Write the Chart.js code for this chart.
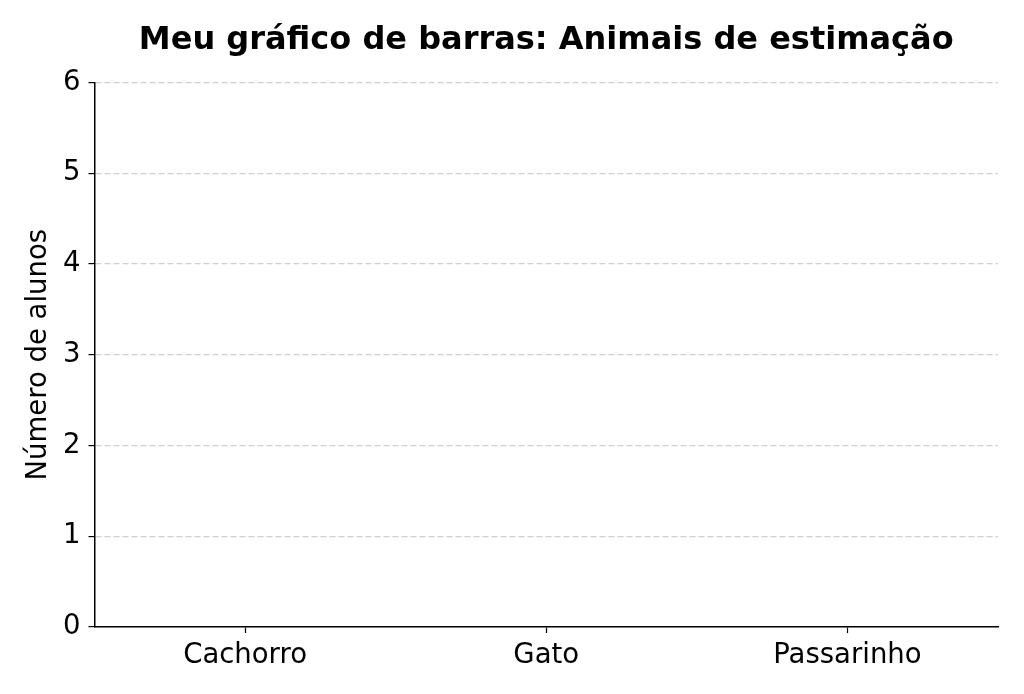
<!DOCTYPE html>
<html>
<head>
<meta charset="utf-8">
<script src="https://cdn.jsdelivr.net/npm/chart.js@4.4.0/dist/chart.umd.min.js"></script>
<style>
  body { margin: 0; background: #fff; }
  #wrap { width: 1024px; height: 694px; }
</style>
</head>
<body>
<div id="wrap"><canvas id="chart"></canvas></div>
<script>
// Dados do gráfico (nenhum aluno registrado ainda)
const animais = ['Cachorro', 'Gato', 'Passarinho'];
const numeroAlunos = [0, 0, 0];
const yTicks = [0, 1, 2, 3, 4, 5, 6];

const fonte = 'DejaVu Sans';

const ctx = document.getElementById('chart').getContext('2d');
const myChart = new Chart(ctx, {
    type: 'bar',
    data: {
        labels: animais,
        datasets: [{
            label: 'Número de alunos',
            data: numeroAlunos,
            backgroundColor: '#4c72b0'
        }]
    },
    options: {
        responsive: true,
        maintainAspectRatio: false,
        animation: false,
        layout: {
            padding: { left: 22, right: 26, top: 0, bottom: 16 }
        },
        plugins: {
            legend: { display: false },
            tooltip: { enabled: false },
            title: {
                display: true,
                fullSize: false,
                text: 'Meu gráfico de barras: Animais de estimação',
                color: '#000',
                font: { family: fonte, size: 32, weight: 'bold' },
                padding: { top: 21, bottom: 23 }
            }
        },
        scales: {
            x: {
                border: { color: '#000', width: 1.5 },
                grid: {
                    color: 'rgba(0,0,0,0)',
                    offset: false,
                    drawTicks: true,
                    tickColor: '#000',
                    tickLength: 6,
                    tickWidth: 1.2
                },
                ticks: {
                    color: '#000',
                    font: { family: fonte, size: 27.5 },
                    padding: 6
                }
            },
            y: {
                min: yTicks[0],
                max: yTicks[yTicks.length - 1],
                border: { color: '#000', width: 1.5, dash: [6, 3] },
                grid: {
                    color: '#d0d0d0',
                    lineWidth: 1.2,
                    drawTicks: true,
                    tickColor: '#000',
                    tickLength: 6,
                    tickWidth: 1.2,
                    tickBorderDash: []
                },
                ticks: {
                    stepSize: 1,
                    color: '#000',
                    font: { family: fonte, size: 27.5 },
                    padding: 8
                },
                title: {
                    display: true,
                    text: 'Número de alunos',
                    color: '#000',
                    font: { family: fonte, size: 27.5 },
                    padding: { top: 0, bottom: 0 }
                }
            }
        }
    }
});
</script>
</body>
</html>
